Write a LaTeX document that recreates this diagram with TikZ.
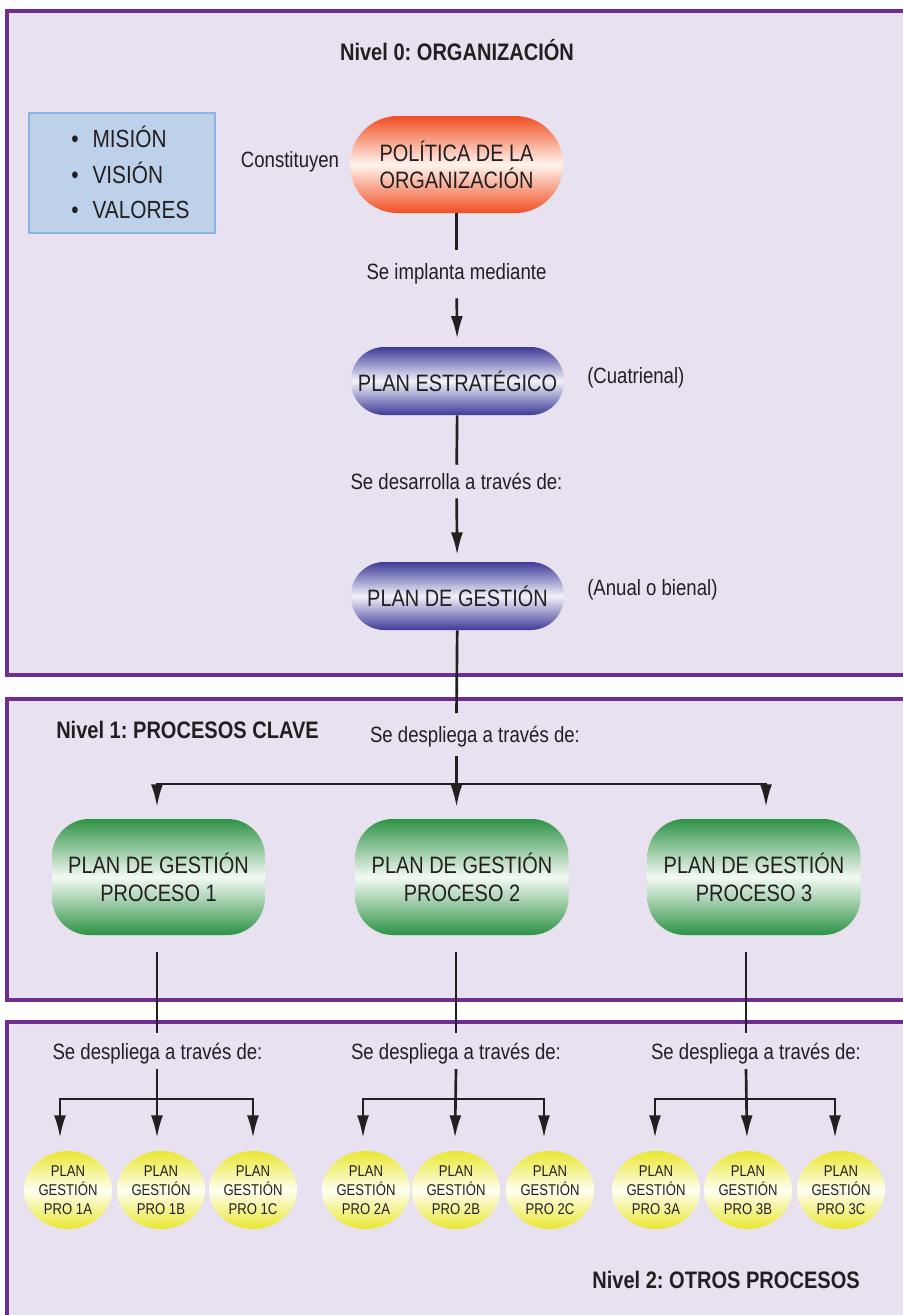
\documentclass[tikz,border=0pt]{standalone}
\usepackage{fontspec}
\setmainfont{Liberation Sans}[FakeStretch=0.84]
\usetikzlibrary{arrows.meta,shapes.geometric}
\frenchspacing

\definecolor{frameline}{HTML}{6F2C91}
\definecolor{framefill}{HTML}{E8E1F0}
\definecolor{boxfill}{HTML}{BDD1EB}
\definecolor{boxline}{HTML}{8DB3E2}
\definecolor{ink}{HTML}{231F20}
\definecolor{redtop}{HTML}{F04E23}
\definecolor{redmid}{HTML}{FFF4EE}
\definecolor{bluetop}{HTML}{3E3B98}
\definecolor{bluemid}{HTML}{F2F2FA}
\definecolor{greentop}{HTML}{2E9245}
\definecolor{greenmid}{HTML}{F4FAF4}
\definecolor{yellowtop}{HTML}{E9E630}
\definecolor{yellowmid}{HTML}{FFFFF2}

\newcommand\fBig{\fontsize{17.8}{20.5}\selectfont}
\newcommand\fGreen{\fontsize{17.8}{21}\selectfont}
\newcommand\fLabel{\fontsize{16.6}{19}\selectfont}
\newcommand\fTitle{\fontsize{17.9}{20}\selectfont\bfseries}
\newcommand\fList{\fontsize{18.6}{21}\selectfont}
\newcommand\fSmall{\fontsize{11.7}{14.2}\selectfont}

\tikzset{
  x=0.75pt, y=-0.75pt,
  frame/.style={draw=frameline, line width=2.3pt, fill=framefill},
  infobox/.style={draw=boxline, line width=2.2pt, fill=boxfill,
    minimum width=139.5pt, minimum height=90pt, inner sep=0pt},
  txt/.style={text=ink, inner sep=0pt},
  lbl/.style={txt, font=\fLabel},
  title/.style={txt, font=\fTitle},
  listitem/.style={txt, font=\fList, anchor=base west},
  pillnode/.style={txt, align=center, minimum width=159.75pt},
  redshade/.style={top color=redtop, bottom color=redtop, middle color=redmid},
  blueshade/.style={top color=bluetop, bottom color=bluetop, middle color=bluemid},
  greenshade/.style={top color=greentop, bottom color=greentop, middle color=greenmid},
  yelnode/.style={txt, ellipse, align=center, font=\fSmall,
    minimum width=66pt, minimum height=58.5pt,
    top color=yellowtop, bottom color=yellowtop, middle color=yellowmid},
  conn/.style={draw=ink, line width=2pt},
  arr/.style={conn, -{Latex[length=17pt,width=9pt]}},
}

\begin{document}
\begin{tikzpicture}
\useasboundingbox (0,0) rectangle (903,1315);
\clip (0,0) rectangle (903,1315);
\fill[white] (0,0) rectangle (903,1315);

% level frames
\draw[frame] (7,11) rectangle (920,675);
\draw[frame] (7,699) rectangle (920,1000);
\draw[frame] (7,1022) rectangle (920,1335);

% ---------------- Nivel 0 ----------------
\node[title, anchor=base] (tit0) at (457,60) {Nivel 0: ORGANIZACIÓN};

\node[infobox] (mvv) at (122,173) {};
\node[listitem] (mis) at (71,147) {•\hspace{10.5pt}MISIÓN};
\node[listitem] (vis) at (71,183) {•\hspace{10.5pt}VISIÓN};
\node[listitem] (val) at (71,218) {•\hspace{10.5pt}VALORES};

\node[lbl] (const) at (290,162) {Constituyen};

\node[pillnode, redshade, font=\fBig, minimum height=72.75pt,
      rounded corners=36pt] (pol) at (456.5,164.5) {POLÍTICA DE LA\\ORGANIZACIÓN};

\node[lbl, minimum height=36pt] (l0) at (456.5,274) {Se implanta mediante};

\node[pillnode, blueshade, font=\fBig, minimum height=51pt,
      rounded corners=25pt] (est) at (457.5,381) {PLAN ESTRATÉGICO};
\node[lbl, anchor=west] (cuat) at (587,378) {(Cuatrienal)};

\node[lbl, minimum height=24.75pt] (l1) at (456.5,481.5) {Se desarrolla a través de:};

\node[pillnode, blueshade, font=\fBig, minimum height=51pt,
      rounded corners=25pt] (ges) at (457.5,596) {PLAN DE GESTIÓN};
\node[lbl, anchor=west] (anual) at (587,590) {(Anual o bienal)};

\draw[conn] (pol) -- (l0);
\draw[arr, shorten >=6pt] (l0) -- (est);
\draw[conn] (est) -- (l1);
\draw[arr, shorten >=5pt] (l1) -- (ges);

% ---------------- Nivel 1 ----------------
\node[title, anchor=base west] (tit1) at (56,738) {Nivel 1: PROCESOS CLAVE};
\node[lbl] (l2) at (475,737) {Se despliega a través de:};

\coordinate (a1) at (456.5,713);
\coordinate (a2) at (456.5,756);
\coordinate (j1) at (456.5,784);
\coordinate (t1) at (157,807);
\coordinate (t2) at (456.5,807);
\coordinate (t3) at (766,807);

\draw[conn] (ges) -- (a1);
\draw[arr] (a2) -- (t2);
\draw[arr] (j1) -| (t1);
\draw[arr] (j1) -| (t3);

\node[pillnode, greenshade, font=\fGreen, minimum height=87pt,
      rounded corners=28pt] (g1) at (158.5,877) {PLAN DE GESTIÓN\\PROCESO 1};
\node[pillnode, greenshade, font=\fGreen, minimum height=87pt,
      rounded corners=28pt] (g2) at (462,877) {PLAN DE GESTIÓN\\PROCESO 2};
\node[pillnode, greenshade, font=\fGreen, minimum height=87pt,
      rounded corners=28pt] (g3) at (754,877) {PLAN DE GESTIÓN\\PROCESO 3};

% ---------------- Nivel 2 ----------------
\node[title, anchor=base east] (tit2) at (860,1288) {Nivel 2: OTROS PROCESOS};

\foreach \k/\x/\lx/\pa/\pb/\pc in {1/157/157.5/60/157/253, 2/456/456/363/455/544, 3/746/756/655/747/835} {
  \coordinate (d\k s) at (\x,952);
  \coordinate (d\k e) at (\x,1033);
  \coordinate (d\k b) at (\x,1069);
  \coordinate (d\k j) at (\x,1099);
  \coordinate (p\k a) at (\pa,1138);
  \coordinate (p\k b) at (\pb,1138);
  \coordinate (p\k c) at (\pc,1138);
  \node[lbl] (m\k) at (\lx,1054) {Se despliega a través de:};
  \draw[conn] (d\k s) -- (d\k e);
  \draw[arr] (d\k b) -- (p\k b);
  \draw[arr] (d\k j) -| (p\k a);
  \draw[arr] (d\k j) -| (p\k c);
}

\foreach \n/\x/\t in {1a/68/1A, 1b/161/1B, 1c/253/1C, 2a/366/2A, 2b/456/2B, 2c/550/2C, 3a/656/3A, 3b/748/3B, 3c/841/3C} {
  \node[yelnode] (y\n) at (\x,1190) {PLAN\\GESTIÓN\\PRO \t};
}
\end{tikzpicture}
\end{document}
